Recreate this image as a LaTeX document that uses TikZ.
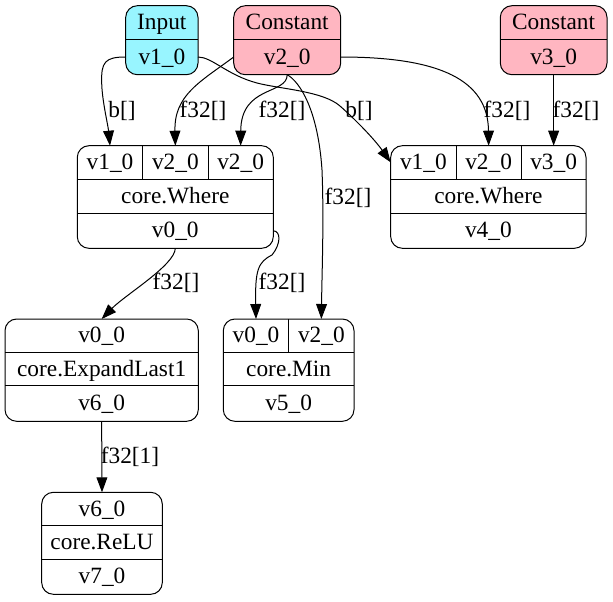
\documentclass[tikz,border=0pt]{standalone}
\usepackage{fontspec}
\setmainfont{Liberation Serif}
\usetikzlibrary{fit,arrows.meta}
\definecolor{inputcol}{HTML}{98F5FF}
\definecolor{constcol}{HTML}{FFB6C1}
\tikzset{
  rec/.style={draw=black, line width=0.6pt, rounded corners=7pt, inner sep=0pt, outer sep=0pt},
  cell/.style={inner sep=0pt, outer sep=0pt, text height=8.5pt, text depth=0pt, font=\fontsize{14}{16}\selectfont},
  div/.style={draw=black, line width=0.6pt},
  edge/.style={draw=black, line width=0.6pt, -{Triangle[length=9pt,width=6.5pt]}},
  lbl/.style={inner sep=0pt, font=\fontsize{14}{16}\selectfont},
}
\newcommand{\cellnode}[6]{\node[cell, minimum width={(#4-#2)*0.6pt}, minimum height={(#5-#3)*0.6pt}] (#1) at ({(#2+#4)/2},{(#3+#5)/2}) {#6};}
\begin{document}
\begin{tikzpicture}[x=0.6pt,y=-0.6pt]
\useasboundingbox (0,0) rectangle (613,601);

% Input
\node[rec, fill=inputcol, fit={(125.7,5.7) (198,74.7)}] (inp) {};
\cellnode{inpt}{125.7}{5.7}{198}{39.3}{Input}
\cellnode{inpv}{125.7}{39.3}{198}{74.7}{v1\_0}
\draw[div] (inpv.north west) -- (inpv.north east);

% Constant v2_0
\node[rec, fill=constcol, fit={(233.7,5.7) (340.7,74.7)}] (c2) {};
\cellnode{c2t}{233.7}{5.7}{340.7}{39.3}{Constant}
\cellnode{c2v}{233.7}{39.3}{340.7}{74.7}{v2\_0}
\draw[div] (c2v.north west) -- (c2v.north east);

% Constant v3_0
\node[rec, fill=constcol, fit={(500.3,5.7) (607,74.7)}] (c3) {};
\cellnode{c3t}{500.3}{5.7}{607}{39.3}{Constant}
\cellnode{c3v}{500.3}{39.3}{607}{74.7}{v3\_0}
\draw[div] (c3v.north west) -- (c3v.north east);

% core.Where (left)
\node[rec, fill=white, fit={(77.3,145.7) (273.3,248.3)}] (w1) {};
\cellnode{w1a}{77.3}{145.7}{142.7}{179}{v1\_0}
\cellnode{w1b}{142.7}{145.7}{208}{179}{v2\_0}
\cellnode{w1c}{208}{145.7}{273.3}{179}{v2\_0}
\cellnode{w1n}{77.3}{179}{273.3}{213.3}{core.Where}
\cellnode{w1o}{77.3}{213.3}{273.3}{248.3}{v0\_0}
\draw[div] (w1a.north east) -- (w1a.south east);
\draw[div] (w1b.north east) -- (w1b.south east);
\draw[div] (w1n.north west) -- (w1n.north east);
\draw[div] (w1o.north west) -- (w1o.north east);

% core.Where (right)
\node[rec, fill=white, fit={(390.7,145.7) (586,248.3)}] (w2) {};
\cellnode{w2a}{390.7}{145.7}{456}{179}{v1\_0}
\cellnode{w2b}{456}{145.7}{521.3}{179}{v2\_0}
\cellnode{w2c}{521.3}{145.7}{586}{179}{v3\_0}
\cellnode{w2n}{390.7}{179}{586}{213.3}{core.Where}
\cellnode{w2o}{390.7}{213.3}{586}{248.3}{v4\_0}
\draw[div] (w2a.north east) -- (w2a.south east);
\draw[div] (w2b.north east) -- (w2b.south east);
\draw[div] (w2n.north west) -- (w2n.north east);
\draw[div] (w2o.north west) -- (w2o.north east);

% core.ExpandLast1
\node[rec, fill=white, fit={(5,319) (198.3,421.3)}] (ex) {};
\cellnode{exa}{5}{319}{198.3}{352.3}{v0\_0}
\cellnode{exn}{5}{352.3}{198.3}{385.7}{core.ExpandLast1}
\cellnode{exo}{5}{385.7}{198.3}{421.3}{v6\_0}
\draw[div] (exn.north west) -- (exn.north east);
\draw[div] (exo.north west) -- (exo.north east);

% core.Min
\node[rec, fill=white, fit={(223.3,319) (354,421.3)}] (mn) {};
\cellnode{mna}{223.3}{319}{288.7}{352.3}{v0\_0}
\cellnode{mnb}{288.7}{319}{354}{352.3}{v2\_0}
\cellnode{mnn}{223.3}{352.3}{354}{385.7}{core.Min}
\cellnode{mno}{223.3}{385.7}{354}{421.3}{v5\_0}
\draw[div] (mna.north east) -- (mna.south east);
\draw[div] (mnn.north west) -- (mnn.north east);
\draw[div] (mno.north west) -- (mno.north east);

% core.ReLU
\node[rec, fill=white, fit={(41.7,492.3) (162.3,594.3)}] (rl) {};
\cellnode{rla}{41.7}{492.3}{162.3}{525.7}{v6\_0}
\cellnode{rln}{41.7}{525.7}{162.3}{559.3}{core.ReLU}
\cellnode{rlo}{41.7}{559.3}{162.3}{594.3}{v7\_0}
\draw[div] (rln.north west) -- (rln.north east);
\draw[div] (rlo.north west) -- (rlo.north east);

% edges
\draw[edge] (inpv.west) .. controls (105,57) and (101,62) .. (101.7,83) .. controls (102,100) and (108,125) .. (w1a.north);
\draw[edge] (inpv.east) .. controls (212,57) and (227,75) .. (257,83) .. controls (280,89) and (323,91) .. (340,106) .. controls (357,121) and (375,140) .. (w2a.west);
\draw[edge] (c2v.west) .. controls (200,82) and (174,95) .. (w1b.north);
\draw[edge] (c2v.south) .. controls (287,95) and (241,85) .. (w1c.north);
\draw[edge] (c2v.south) .. controls (300,82) and (318,110) .. (322,170) .. controls (324,220) and (322,270) .. (mnb.north);
\draw[edge] (c2v.east) .. controls (440,57) and (488,80) .. (w2b.north);
\draw[edge] (c3v.south) -- (w2c.north);
\draw[edge] (w1o.south) .. controls (175,265) and (125,295) .. (exa.north);
\draw[edge] (w1o.east) .. controls (281,231) and (281,244) .. (272,255) .. controls (258,262) and (255,270) .. (mna.north);
\draw[edge] (exo.south) -- (rla.north);

% edge labels
\node[lbl] (l1) at (122,111) {b[]};
\node[lbl] (l2) at (359,111) {b[]};
\node[lbl] (l3) at (203,111) {f32[]};
\node[lbl] (l4) at (282,111) {f32[]};
\node[lbl] (l5) at (348,198) {f32[]};
\node[lbl] (l6) at (507,111) {f32[]};
\node[lbl] (l7) at (576,111) {f32[]};
\node[lbl] (l8) at (176,283) {f32[]};
\node[lbl] (l9) at (282,283) {f32[]};
\node[lbl] (l10) at (130,457) {f32[1]};
\end{tikzpicture}
\end{document}
